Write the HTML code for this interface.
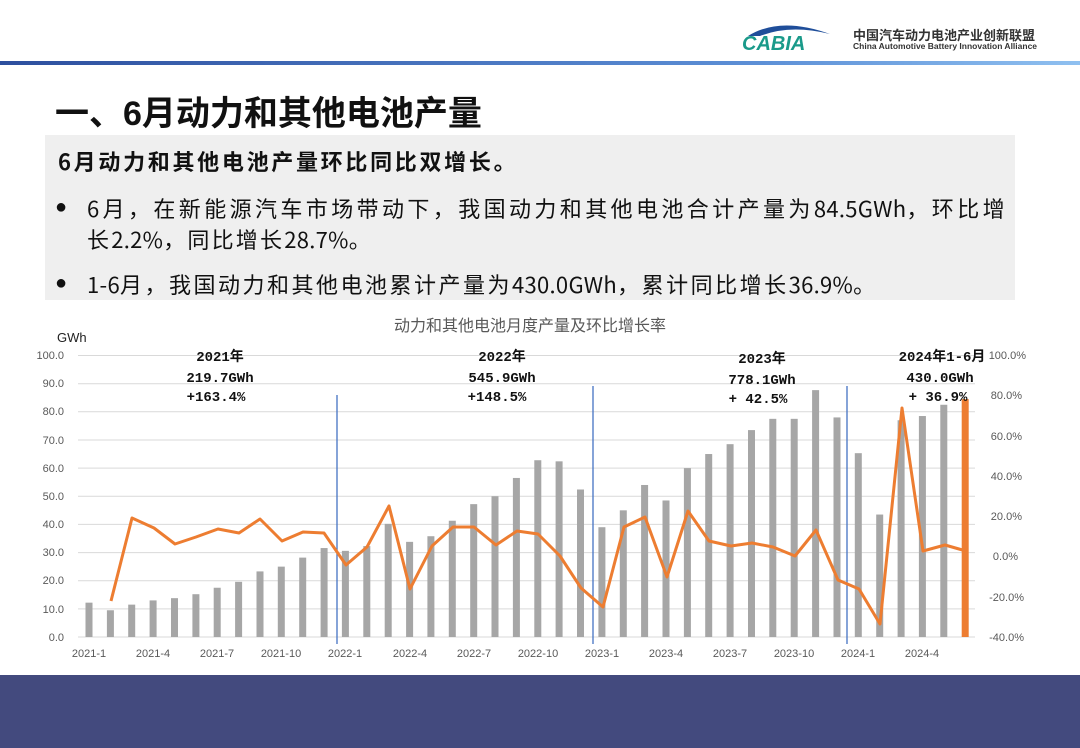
<!DOCTYPE html>
<html><head><meta charset="utf-8"><style>
body{margin:0;width:1080px;height:748px;background:#fff;position:relative;overflow:hidden;font-family:"Liberation Sans","Noto Sans CJK SC",sans-serif}
.a{position:absolute;white-space:nowrap}
.j{position:absolute;white-space:nowrap;font-family:"Noto Sans CJK SC",sans-serif;font-size:22px;letter-spacing:2.7px;color:#111;line-height:1}
.n{letter-spacing:0.3px}
</style></head><body>
<div class="a" style="left:0;top:61px;width:1080px;height:4px;background:linear-gradient(90deg,#2d4f9e,#5c8fd6 70%,#8fc0f0)"></div>
<svg class="a" style="left:740px;top:14px" width="100" height="40">
<path d="M8 22 Q40 2 90 20 Q50 10 20 22Z" fill="#1f4e9a"/>
<text x="2" y="36" font-size="20" font-style="italic" font-weight="bold" fill="#1a9a8a" font-family="Liberation Sans">CABIA</text>
</svg>
<div class="a" style="left:853px;top:25px;font-size:13px;font-weight:bold;color:#333">中国汽车动力电池产业创新联盟</div>
<div class="a" style="left:853px;top:41px;font-size:8.5px;font-weight:bold;color:#333">China Automotive Battery Innovation Alliance</div>
<div class="a" style="left:55px;top:86px;font-size:34px;font-weight:bold;color:#111">一、6月动力和其他电池产量</div>
<div class="a" style="left:45px;top:135px;width:970px;height:165px;background:#efefef"></div>
<div class="j" style="left:58px;top:150px;font-weight:bold;letter-spacing:2.7px">6月动力和其他电池产量环比同比双增长。</div>
<div class="a" style="left:55px;top:196px;font-size:20px;color:#111">●</div>
<div class="j" style="left:87px;top:197px;letter-spacing:3.4px">6月，在新能源汽车市场带动下，我国动力和其他电池合计产量为<span class="n">84.5GWh</span>，环比增</div>
<div class="j" style="left:87px;top:228px;letter-spacing:2.2px">长<span class="n">2.2%</span>，同比增长<span class="n">28.7%</span>。</div>
<div class="a" style="left:55px;top:272px;font-size:20px;color:#111">●</div>
<div class="j" style="left:87px;top:273px;letter-spacing:2.5px"><span class="n">1-6</span>月，我国动力和其他电池累计产量为<span class="n">430.0GWh</span>，累计同比增长<span class="n">36.9%</span>。</div>
<div class="a" style="left:0;top:675px;width:1080px;height:73px;background:#434a7e"></div>
<svg class="a" style="left:0;top:0" width="1080" height="675" font-family="Liberation Sans,Noto Sans CJK SC,sans-serif">
<text x="530" y="331" font-size="16" fill="#595959" text-anchor="middle">动力和其他电池月度产量及环比增长率</text>
<text x="57" y="342" font-size="13" fill="#222">GWh</text>
<g stroke="#d9d9d9" stroke-width="1">
<line x1="78" x2="975" y1="355.5" y2="355.5"/><line x1="78" x2="975" y1="383.7" y2="383.7"/><line x1="78" x2="975" y1="411.8" y2="411.8"/><line x1="78" x2="975" y1="440" y2="440"/><line x1="78" x2="975" y1="468.1" y2="468.1"/><line x1="78" x2="975" y1="496.3" y2="496.3"/><line x1="78" x2="975" y1="524.4" y2="524.4"/><line x1="78" x2="975" y1="552.6" y2="552.6"/><line x1="78" x2="975" y1="580.7" y2="580.7"/><line x1="78" x2="975" y1="608.9" y2="608.9"/><line x1="78" x2="975" y1="637" y2="637"/>
</g>
<g font-size="11" fill="#595959" text-anchor="end">
<text x="64" y="359">100.0</text><text x="64" y="387">90.0</text><text x="64" y="415">80.0</text><text x="64" y="444">70.0</text><text x="64" y="472">60.0</text><text x="64" y="500">50.0</text><text x="64" y="528">40.0</text><text x="64" y="556">30.0</text><text x="64" y="584">20.0</text><text x="64" y="613">10.0</text><text x="64" y="641">0.0</text>
</g>
<g font-size="11" fill="#595959" text-anchor="end">
<text x="1026" y="359">100.0%</text><text x="1022" y="399">80.0%</text><text x="1022" y="440">60.0%</text><text x="1022" y="480">40.0%</text><text x="1022" y="520">20.0%</text><text x="1018" y="560">0.0%</text><text x="1024" y="601">-20.0%</text><text x="1024" y="641">-40.0%</text>
</g>
<g font-size="11" fill="#595959" text-anchor="middle">
<text x="89" y="657">2021-1</text><text x="153" y="657">2021-4</text><text x="217" y="657">2021-7</text><text x="281" y="657">2021-10</text><text x="345" y="657">2022-1</text><text x="410" y="657">2022-4</text><text x="474" y="657">2022-7</text><text x="538" y="657">2022-10</text><text x="602" y="657">2023-1</text><text x="666" y="657">2023-4</text><text x="730" y="657">2023-7</text><text x="794" y="657">2023-10</text><text x="858" y="657">2024-1</text><text x="922" y="657">2024-4</text>
</g>
<g transform="translate(0,637) scale(1,-2.815)" fill="#a6a6a6">
<rect x="85.5" y="0" width="7" height="12.2"/><rect x="106.9" y="0" width="7" height="9.5"/><rect x="128.2" y="0" width="7" height="11.5"/><rect x="149.6" y="0" width="7" height="13"/><rect x="171" y="0" width="7" height="13.8"/><rect x="192.4" y="0" width="7" height="15.2"/><rect x="213.7" y="0" width="7" height="17.5"/><rect x="235.1" y="0" width="7" height="19.6"/><rect x="256.5" y="0" width="7" height="23.3"/><rect x="277.8" y="0" width="7" height="25"/><rect x="299.2" y="0" width="7" height="28.2"/><rect x="320.6" y="0" width="7" height="31.6"/>
<rect x="341.9" y="0" width="7" height="30.6"/><rect x="363.3" y="0" width="7" height="32.3"/><rect x="384.7" y="0" width="7" height="40.2"/><rect x="406.1" y="0" width="7" height="33.8"/><rect x="427.4" y="0" width="7" height="35.8"/><rect x="448.8" y="0" width="7" height="41.3"/><rect x="470.2" y="0" width="7" height="47.2"/><rect x="491.5" y="0" width="7" height="50"/><rect x="512.9" y="0" width="7" height="56.5"/><rect x="534.3" y="0" width="7" height="62.8"/><rect x="555.6" y="0" width="7" height="62.4"/><rect x="577" y="0" width="7" height="52.4"/>
<rect x="598.4" y="0" width="7" height="39"/><rect x="619.8" y="0" width="7" height="45"/><rect x="641.1" y="0" width="7" height="54"/><rect x="662.5" y="0" width="7" height="48.5"/><rect x="683.9" y="0" width="7" height="60"/><rect x="705.2" y="0" width="7" height="65"/><rect x="726.6" y="0" width="7" height="68.5"/><rect x="748" y="0" width="7" height="73.5"/><rect x="769.3" y="0" width="7" height="77.5"/><rect x="790.7" y="0" width="7" height="77.5"/><rect x="812.1" y="0" width="7" height="87.7"/><rect x="833.5" y="0" width="7" height="78"/>
<rect x="854.8" y="0" width="7" height="65.3"/><rect x="876.2" y="0" width="7" height="43.5"/><rect x="897.6" y="0" width="7" height="77"/><rect x="918.9" y="0" width="7" height="78.5"/><rect x="940.3" y="0" width="7" height="82.5"/><rect x="961.7" y="0" width="7" height="84.5" fill="#ed7d31"/>
</g>
<g stroke="#4472c4" stroke-width="1.3"><line x1="337" x2="337" y1="395" y2="644"/><line x1="593" x2="593" y1="386" y2="644"/><line x1="847" x2="847" y1="386" y2="644"/></g>
<polyline fill="none" stroke="#ed7d31" stroke-width="3" stroke-linejoin="round" points="111,601 132,518 154,528 175,544 196,537 218,529 239,533 260,519 282,541 303,532 324,533 346,565 367,547 389,506 410,589 432,546 453,527 474,527 496,545 517,531 538,534 560,556 581,588 603,607 624,527 645,517 667,577 688,511 709,541 731,546 752,543 773,547 795,556 816,530 838,580 859,589 880,624 902,408 923,551 945,545 966,551"/>
<g font-size="14" font-weight="bold" fill="#111" font-family="Liberation Mono,Noto Sans CJK SC,monospace" text-anchor="middle">
<text x="220" y="361">2021年</text><text x="220" y="382">219.7GWh</text><text x="216" y="401">+163.4%</text>
<text x="502" y="361">2022年</text><text x="502" y="382">545.9GWh</text><text x="497" y="401">+148.5%</text>
<text x="762" y="363">2023年</text><text x="762" y="384">778.1GWh</text><text x="758" y="403">+ 42.5%</text>
<text x="942" y="361">2024年1-6月</text><text x="940" y="382">430.0GWh</text><text x="938" y="401">+ 36.9%</text>
</g>
</svg>
</body></html>
